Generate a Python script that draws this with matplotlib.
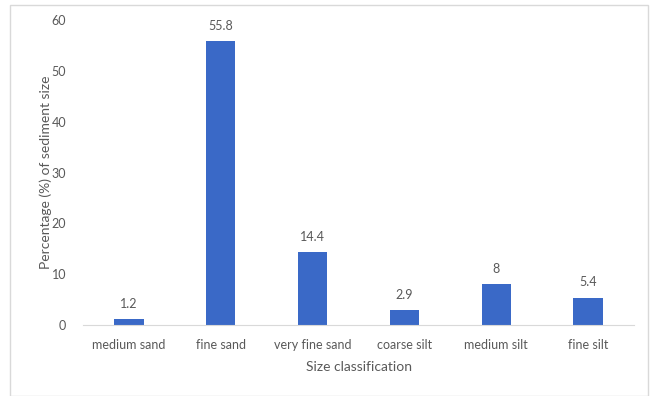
import matplotlib
matplotlib.use("Agg")
import matplotlib.pyplot as plt
from matplotlib.patches import Rectangle

categories = ["medium sand", "fine sand", "very fine sand", "coarse silt", "medium silt", "fine silt"]
values = [1.2, 55.8, 14.4, 2.9, 8, 5.4]
labels = ["1.2", "55.8", "14.4", "2.9", "8", "5.4"]
yticks = [0, 10, 20, 30, 40, 50, 60]

text_color = "#595959"
bar_color = "#3a69c7"

plt.rcParams["font.family"] = ["Lato", "DejaVu Sans"]

fig = plt.figure(figsize=(6.53, 3.96), dpi=100)
fig.patches.append(Rectangle((10 / 653, 0), 638 / 653, 391 / 396, transform=fig.transFigure,
                             fill=False, edgecolor="#d9d9d9", linewidth=1))

ax = fig.add_axes([83 / 653, 1 - 325 / 396, 551 / 653, 305 / 396])
x = range(len(categories))
ax.bar(x, values, width=0.32, color=bar_color, zorder=2)
for xi, v, lab in zip(x, values, labels):
    ax.text(xi, v + 1.8, lab, ha="center", va="bottom", fontsize=9, color=text_color)

ax.set_xlim(-0.5, len(categories) - 0.5)
ax.set_ylim(0, 60)
ax.set_yticks(yticks)
ax.set_xticks(list(x))
ax.set_xticklabels(categories)
ax.tick_params(axis="both", length=0, labelsize=9, colors=text_color)
ax.tick_params(axis="x", pad=10)
ax.tick_params(axis="y", pad=12)
for side in ["top", "right", "left"]:
    ax.spines[side].set_visible(False)
ax.spines["bottom"].set_color("#d9d9d9")

ax.set_xlabel("Size classification", fontsize=10, color=text_color, labelpad=7)
ax.set_ylabel("Percentage (%) of sediment size", fontsize=10, color=text_color, labelpad=0)

fig.savefig("out.png", dpi=100)
